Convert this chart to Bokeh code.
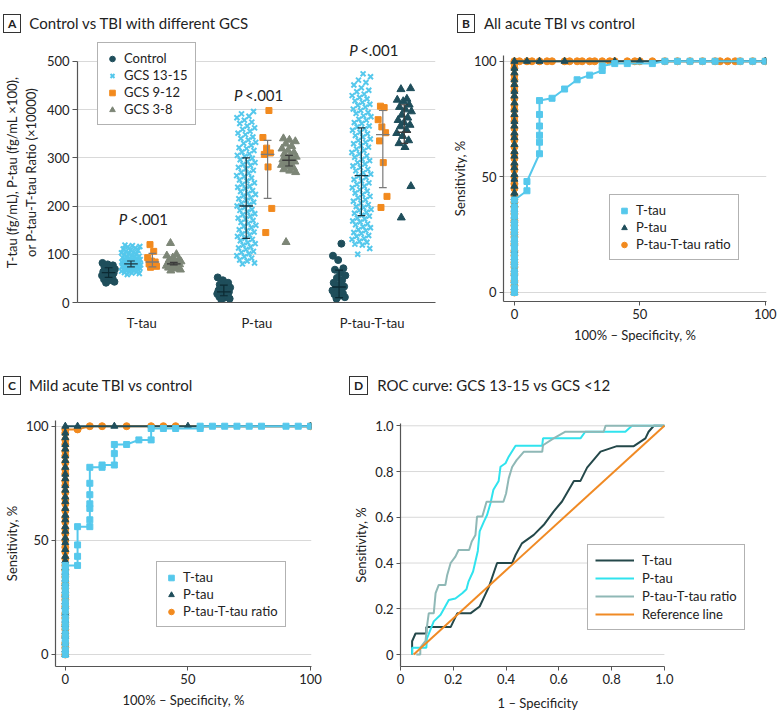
from bokeh.plotting import figure
from bokeh.layouts import column, row
from bokeh.models import Label, Legend, LegendItem, FixedTicker, Range1d, LinearAxis, Div
from bokeh.embed import file_html
from bokeh.resources import INLINE

FONT = "Lato"
C_CTRL = "#1f4e5b"
C_MILD = "#55c8ec"
C_MOD = "#f28a1e"
C_SEV = "#7d8677"
GRID = "#d9d9d9"
AXIS = "#555555"
TXT = "#222222"

# ---------------- Panel A data ----------------
markers_a = ["T-tau", "P-tau", "P-tau-T-tau"]
groups_a = ["Control", "GCS 13-15", "GCS 9-12", "GCS 3-8"]

ttau_control = [82, 79, 77, 74, 71, 69, 67, 66, 64, 62, 61, 59, 57, 56, 53, 51, 48, 46, 43, 41]
ttau_gcs1315 = [119, 118, 116, 115, 113, 111, 109, 108, 106, 104, 103, 101, 100, 99, 97, 96, 95, 94,
                93, 92, 91, 90, 90, 89, 88, 88, 87, 86, 86, 85, 85, 84, 84, 83, 83, 82, 82, 81,
                81, 80, 80, 79, 79, 78, 78, 77, 77, 76, 76, 75, 75, 74, 74, 73, 73, 72, 72, 71,
                70, 70, 69, 68, 68, 67, 66, 65, 64, 63, 62, 61, 60, 58]
ttau_gcs912 = [120, 106, 93, 86, 84, 80, 78, 75, 73]
ttau_gcs38 = [123, 100, 97, 93, 90, 88, 86, 85, 83, 82, 81, 80, 79, 78, 77, 76, 75, 74, 72, 70, 68, 66]

ptau_control = [52, 46, 41, 37, 34, 31, 29, 27, 25, 23, 22, 21, 19, 18, 16, 14, 12, 10, 8, 6]
ptau_gcs1315 = [396, 391, 386, 383, 378, 374, 371, 366, 362, 359, 355, 351, 348, 343, 340, 337, 332,
                330, 326, 321, 319, 315, 312, 308, 305, 303, 299, 296, 292, 290, 286, 284, 280, 277,
                274, 270, 268, 263, 261, 258, 254, 252, 248, 245, 241, 239, 236, 232, 230, 226, 224,
                221, 217, 215, 212, 208, 206, 203, 200, 197, 193, 191, 188, 184, 182, 179, 175, 173,
                170, 166, 164, 160, 158, 155, 151, 149, 146, 142, 140, 137, 133, 131, 128, 124, 122,
                119, 115, 113, 110, 106, 104, 101, 97, 95, 92, 88, 86, 82, 80]
ptau_gcs912 = [398, 342, 320, 310, 307, 281, 195, 145]
ptau_gcs38 = [340, 337, 334, 329, 324, 319, 315, 311, 308, 305, 302, 300, 298, 296, 294, 292, 290,
              287, 285, 282, 279, 276, 273, 270, 125]

ptt_control = [122, 97, 88, 71, 68, 61, 56, 51, 46, 41, 36, 33, 30, 27, 25, 22, 19, 17, 14, 11, 8]
ptt_gcs1315 = [474, 468, 461, 456, 451, 445, 440, 437, 432, 429, 425, 422, 418, 415, 411, 409, 405,
               401, 398, 394, 392, 387, 385, 380, 378, 373, 371, 366, 364, 360, 357, 353, 350, 346,
               343, 339, 336, 332, 329, 325, 322, 318, 315, 311, 308, 304, 301, 297, 294, 290, 287,
               283, 280, 276, 273, 269, 266, 262, 259, 255, 252, 248, 245, 241, 238, 234, 231, 227,
               224, 220, 217, 213, 210, 206, 203, 199, 197, 193, 191, 187, 185, 181, 179, 175, 173,
               169, 167, 163, 161, 157, 155, 151, 149, 145, 143, 139, 137, 133, 131, 127, 125, 121,
               119, 112, 100]
ptt_gcs912 = [407, 404, 379, 364, 352, 335, 290, 220, 197]
ptt_gcs38 = [444, 442, 422, 420, 417, 410, 405, 400, 396, 389, 383, 378, 373, 368, 365, 358, 351,
             345, 336, 330, 322, 241, 176]

# error bars: centre, low, high (per group, in group order)
ttau_mid = [62, 80, 84, 80]
ttau_lo = [52, 74, 74, 78]
ttau_hi = [72, 86, 102, 83]
ptau_mid = [22, 200, 307, 295]
ptau_lo = [14, 133, 216, 283]
ptau_hi = [36, 300, 336, 305]
ptt_mid = [32, 263, 348, 353]
ptt_lo = [10, 180, 238, 330]
ptt_hi = [67, 362, 398, 410]

p_labels_y = [174, 430, 523]

# ---------------- Panel B data (All acute TBI vs control) ----------------
b_ttau_x = [0, 0, 0, 0, 0, 0, 0, 0, 0, 0, 0, 0, 0, 0, 0, 0, 0, 0, 5, 5, 10, 10, 10, 10, 10, 10,
            15, 20, 25, 30, 35, 35, 40, 45, 55, 60, 65, 70, 75, 80, 90, 95, 100]
b_ttau_y = [0, 2, 5, 7, 9, 12, 14, 16, 19, 21, 23, 26, 28, 30, 33, 35, 37, 40, 44, 48, 60, 65, 68, 72,
            77, 83, 84, 88, 92, 94, 96, 98, 99, 99, 99, 100, 100, 100, 100, 100, 100, 100, 100]
b_ptau_x = [0, 0, 0, 0, 0, 0, 0, 0, 0, 0, 0, 0, 0, 0, 0, 0, 0, 0, 0, 0, 0, 0, 0, 0, 0, 0, 0, 0, 0,
            0, 0, 0, 0, 0, 0, 0, 0, 0, 0, 0, 5, 10, 20, 40, 50, 100]
b_ptau_y = [0, 2, 5, 8, 10, 13, 15, 18, 21, 23, 26, 28, 31, 33, 36, 38, 41, 43, 46, 49, 51, 54, 56,
            59, 61, 64, 67, 69, 72, 74, 77, 79, 82, 85, 87, 90, 92, 95, 97, 100, 100, 100, 100, 100,
            100, 100]
b_ratio_x = [0, 0, 0, 0, 0, 0, 0, 0, 0, 0, 0, 0, 0, 0, 0, 0, 0, 0, 0, 0, 0, 0, 0, 0, 0, 0, 0, 0, 0,
             0, 0, 0, 0, 0, 0, 0, 0, 0, 0, 0, 2, 5, 7, 10, 13, 15, 20, 22, 25, 27, 30, 32, 35, 38, 40,
             45, 48, 50, 55, 60, 65, 70, 75, 80, 82, 85, 88, 90, 95, 100]
b_ratio_y = [0, 3, 5, 8, 11, 13, 16, 18, 21, 24, 26, 29, 31, 34, 37, 39, 42, 45, 47, 50, 53, 55, 58,
             60, 63, 66, 68, 71, 74, 76, 79, 81, 84, 87, 89, 92, 94, 97, 99, 100, 100, 100, 100, 100,
             100, 100, 100, 100, 100, 100, 100, 100, 100, 100, 100, 100, 100, 100, 100, 100, 100,
             100, 100, 100, 100, 100, 100, 100, 100, 100]

# ---------------- Panel C data (Mild acute TBI vs control) ----------------
c_ttau_x = [0, 0, 0, 0, 0, 0, 0, 0, 0, 0, 0, 0, 0, 0, 0, 0, 0, 0, 5, 5, 5, 5, 10, 10, 10, 10, 10, 10,
            10, 15, 15, 20, 20, 20, 25, 30, 35, 35, 40, 45, 55, 55, 60, 65, 70, 75, 80, 90, 95, 100]
c_ttau_y = [0, 2, 5, 7, 9, 12, 14, 16, 19, 21, 23, 26, 28, 30, 33, 35, 37, 39, 39, 43, 48, 56, 56, 59,
            64, 66, 70, 75, 82, 82, 83, 83, 88, 92, 92, 94, 94, 99, 99, 99, 99, 100, 100, 100, 100,
            100, 100, 100, 100, 100]
c_ptau_x = [0, 0, 0, 0, 0, 0, 0, 0, 0, 0, 0, 0, 0, 0, 0, 0, 0, 0, 0, 0, 0, 0, 0, 0, 0, 0, 0, 0, 0,
            0, 0, 0, 0, 0, 0, 0, 0, 0, 0, 0, 5, 20, 50, 100]
c_ptau_y = [0, 2, 5, 8, 10, 13, 15, 18, 21, 23, 26, 28, 31, 33, 36, 38, 41, 43, 46, 49, 51, 54, 56,
            59, 61, 64, 67, 69, 72, 74, 77, 79, 82, 85, 87, 90, 92, 95, 97, 100, 100, 100, 100, 100]
c_ratio_x = [0, 0, 0, 0, 0, 0, 0, 0, 0, 0, 0, 0, 0, 0, 0, 0, 0, 0, 0, 0, 0, 0, 0, 0, 0, 0, 0, 0, 0,
             0, 0, 0, 0, 0, 0, 0, 0, 0, 0, 5, 10, 15, 25, 35, 40, 45, 100]
c_ratio_y = [0, 3, 5, 8, 11, 13, 16, 18, 21, 24, 26, 29, 31, 34, 37, 39, 42, 45, 47, 50, 53, 55, 58,
             60, 63, 66, 68, 71, 74, 76, 79, 81, 84, 87, 89, 92, 94, 97, 98.6, 98.6, 100, 100, 100,
             100, 100, 100, 100]

# ---------------- Panel D data (ROC GCS 13-15 vs GCS <12) ----------------
d_ttau_x = [0.044, 0.044, 0.057, 0.098, 0.098, 0.19, 0.215, 0.265, 0.30, 0.335, 0.366, 0.423, 0.436,
            0.46, 0.505, 0.543, 0.58, 0.612, 0.657, 0.682, 0.707, 0.758, 0.82, 0.884, 0.928, 0.94,
            0.96, 1.0]
d_ttau_y = [0.0, 0.058, 0.092, 0.092, 0.12, 0.12, 0.18, 0.18, 0.21, 0.296, 0.40, 0.40, 0.435, 0.486,
            0.523, 0.567, 0.625, 0.669, 0.759, 0.759, 0.817, 0.887, 0.911, 0.911, 0.945, 0.974, 1.0,
            1.0]
d_ptau_x = [0.044, 0.044, 0.098, 0.10, 0.126, 0.152, 0.183, 0.208, 0.234, 0.25, 0.258, 0.275, 0.293,
            0.30, 0.316, 0.328, 0.341, 0.352, 0.372, 0.379, 0.398, 0.41, 0.436, 0.537, 0.54, 0.682,
            0.70, 0.852, 0.877, 1.0]
d_ptau_y = [0.0, 0.03, 0.03, 0.07, 0.145, 0.174, 0.238, 0.245, 0.268, 0.285, 0.32, 0.363, 0.453,
            0.538, 0.581, 0.61, 0.661, 0.72, 0.759, 0.821, 0.836, 0.865, 0.913, 0.913, 0.945, 0.945,
            0.974, 0.974, 1.0, 1.0]
d_ratio_x = [0.06, 0.075, 0.075, 0.095, 0.10, 0.107, 0.126, 0.133, 0.145, 0.17, 0.177, 0.19, 0.208,
             0.22, 0.26, 0.27, 0.284, 0.29, 0.31, 0.326, 0.39, 0.40, 0.41, 0.423, 0.44, 0.467, 0.537,
             0.54, 0.58, 0.625, 0.77, 0.777, 1.0]
d_ratio_y = [0.0, 0.0, 0.03, 0.06, 0.12, 0.18, 0.18, 0.268, 0.304, 0.304, 0.348, 0.40, 0.428, 0.457,
             0.457, 0.494, 0.523, 0.603, 0.603, 0.668, 0.668, 0.704, 0.77, 0.82, 0.85, 0.886, 0.886,
             0.915, 0.945, 0.974, 0.974, 1.0, 1.0]
d_ref_x = [0.05, 1.0]
d_ref_y = [0.0, 1.0]
d_ticks = [0, 0.2, 0.4, 0.6, 0.8, 1.0]


# ---------------- helpers ----------------
def style(p):
    p.outline_line_color = None
    p.background_fill_color = "white"
    p.border_fill_color = "white"
    for ax in p.axis:
        ax.axis_line_color = AXIS
        ax.axis_line_width = 1.2
        ax.major_tick_line_color = AXIS
        ax.major_tick_out = 4
        ax.major_tick_in = 0
        ax.minor_tick_line_color = None
        ax.major_label_standoff = 3
        ax.axis_label_standoff = 5
        ax.major_label_text_font = FONT
        ax.major_label_text_font_size = "13px"
        ax.major_label_text_color = TXT
        ax.axis_label_text_font = FONT
        ax.axis_label_text_font_size = "13px"
        ax.axis_label_text_font_style = "normal"
        ax.axis_label_text_color = TXT
    p.xgrid.grid_line_color = None
    p.ygrid.grid_line_color = GRID
    p.ygrid.grid_line_width = 1


def title_div(letter, text, w, h, pad_top, pad_left, gap):
    html = (f'<div style="font-family:Lato,sans-serif;font-size:15px;color:{TXT};white-space:nowrap;'
            f'padding-top:{pad_top}px;padding-left:{pad_left}px;line-height:19px;">'
            f'<span style="display:inline-block;border:1px solid #333;padding:0 4px;font-weight:bold;'
            f'font-size:12px;line-height:17px;margin-right:{gap}px;vertical-align:middle;">{letter}</span>'
            f'<span style="vertical-align:middle;">{text}</span></div>')
    return Div(text=html, width=w, height=h, margin=(0, 0, 0, 0))


def make_legend(items, loc, lh, gw, padding=7, spacing=1):
    return Legend(items=items, location=loc, label_text_font=FONT, label_text_font_size="13px",
                  label_text_color=TXT, border_line_color="#666666", border_line_width=1,
                  background_fill_color="white", background_fill_alpha=1.0, padding=padding,
                  spacing=spacing, label_height=lh, glyph_height=lh, glyph_width=gw,
                  label_standoff=5, margin=0)


# ---------------- Panel A ----------------
AX0, AX1 = -0.557, 2.55
XPX = 368 / (AX1 - AX0)
pA = figure(width=448, height=305, x_range=Range1d(AX0, AX1), y_range=Range1d(0, 539),
            output_backend="svg", toolbar_location=None,
            min_border_left=67, min_border_right=13, min_border_top=2, min_border_bottom=43)
style(pA)
pA.yaxis.ticker = FixedTicker(ticks=[0, 100, 200, 300, 400, 500])
pA.yaxis.bounds = (0, 500)
pA.xaxis.ticker = FixedTicker(ticks=[0, 1, 2])
pA.xaxis.major_label_overrides = {0: markers_a[0], 1: markers_a[1], 2: markers_a[2]}
pA.xaxis.major_tick_line_color = None
pA.xaxis.major_label_standoff = 8
pA.yaxis.major_tick_out = 5
pA.yaxis.axis_label = "T-tau (fg/mL), P-tau (fg/mL \u00d7100),\nor P-tau-T-tau Ratio (\u00d710000)"
pA.yaxis.axis_label_standoff = 5

group_off_px = [-34, -11, 11, 33]
half_px = [7, 10, 5, 8]
GOLD = 0.6180339887


def jitter(vals, half):
    order = sorted(range(len(vals)), key=lambda i: vals[i])
    offs = [0.0] * len(vals)
    for rank, i in enumerate(order):
        f = (rank * GOLD + 0.31) % 1.0
        offs[i] = (2 * f - 1) * half
    return offs


data_a = [
    [ttau_control, ttau_gcs1315, ttau_gcs912, ttau_gcs38],
    [ptau_control, ptau_gcs1315, ptau_gcs912, ptau_gcs38],
    [ptt_control, ptt_gcs1315, ptt_gcs912, ptt_gcs38],
]
bars_a = [
    (ttau_mid, ttau_lo, ttau_hi),
    (ptau_mid, ptau_lo, ptau_hi),
    (ptt_mid, ptt_lo, ptt_hi),
]
colors_a = [
    [C_CTRL, C_MILD, C_MOD, C_SEV],
    [C_CTRL, C_MILD, C_MOD, C_SEV],
    [C_CTRL, C_MILD, C_MOD, C_CTRL],
]
marker_kind = ["circle", "x", "square", "triangle"]
marker_size = [7, 7, 6, 8]
bar_colors = ["#0c2a33", "#1b3640", "#7a7a7a", "#3b3b3b"]

legend_rs = []
for ci in range(3):
    for gi in range(4):
        vals = data_a[ci][gi]
        offs = jitter(vals, half_px[gi])
        xs = [ci + (group_off_px[gi] + o) / XPX for o in offs]
        kw = dict(marker=marker_kind[gi], size=marker_size[gi], color=colors_a[ci][gi])
        if marker_kind[gi] == "x":
            kw["line_width"] = 2
        r = pA.scatter(xs, vals, **kw)
        if ci == 0:
            legend_rs.append(r)
    mid, lo, hi = bars_a[ci]
    for gi in range(4):
        xc = ci + group_off_px[gi] / XPX
        cw = 4 / XPX
        mw = 7 / XPX
        col = bar_colors[gi]
        pA.segment(x0=[xc], y0=[lo[gi]], x1=[xc], y1=[hi[gi]], line_color=col, line_width=1.2)
        pA.segment(x0=[xc - cw, xc - cw], y0=[lo[gi], hi[gi]], x1=[xc + cw, xc + cw],
                   y1=[lo[gi], hi[gi]], line_color=col, line_width=1.2)
        pA.segment(x0=[xc - mw], y0=[mid[gi]], x1=[xc + mw], y1=[mid[gi]], line_color=col,
                   line_width=1.4)

for ci in range(3):
    pA.add_layout(Label(x=ci, y=p_labels_y[ci], text="P", text_font=FONT, text_font_size="15px",
                        text_font_style="italic", text_color=TXT, x_offset=-23,
                        text_baseline="middle", text_align="left"))
    pA.add_layout(Label(x=ci, y=p_labels_y[ci], text="<.001", text_font=FONT,
                        text_font_size="15px", text_color=TXT, x_offset=-12,
                        text_baseline="middle", text_align="left"))

legA = make_legend([LegendItem(label=groups_a[i], renderers=[legend_rs[i]]) for i in range(4)],
                   (20, 177), 15, 14)
pA.add_layout(legA)


# ---------------- ROC panels B & C ----------------
def roc_panel(w, h, xr, yr, mb, ttau, ptau, ratio, legloc):
    p = figure(width=w, height=h, x_range=Range1d(*xr), y_range=Range1d(*yr),
               output_backend="svg", toolbar_location=None,
               min_border_left=mb[0], min_border_right=mb[1], min_border_top=mb[2],
               min_border_bottom=mb[3])
    style(p)
    p.xaxis.ticker = FixedTicker(ticks=[0, 50, 100])
    p.yaxis.ticker = FixedTicker(ticks=[0, 50, 100])
    p.xaxis.axis_label = "100% \u2013 Specificity, %"
    p.yaxis.axis_label = "Sensitivity, %"
    p.yaxis.axis_label_standoff = 3
    p.line(ratio[0], ratio[1], line_color=C_MOD, line_width=2)
    r_ratio = p.scatter(ratio[0], ratio[1], marker="circle", size=7, color=C_MOD)
    p.line(ptau[0], ptau[1], line_color=C_CTRL, line_width=2)
    r_ptau = p.scatter(ptau[0], ptau[1], marker="triangle", size=7, color=C_CTRL)
    p.line(ttau[0], ttau[1], line_color=C_MILD, line_width=2)
    r_ttau = p.scatter(ttau[0], ttau[1], marker="square", size=6, color=C_MILD)
    leg = make_legend([LegendItem(label="T-tau", renderers=[r_ttau]),
                       LegendItem(label="P-tau", renderers=[r_ptau]),
                       LegendItem(label="P-tau-T-tau ratio", renderers=[r_ratio])],
                      legloc, 15, 14)
    p.add_layout(leg)
    return p


pB = roc_panel(335, 305, (-4.35, 100.5), (-3.9, 102.5), (54, 17, 15, 43),
               (b_ttau_x, b_ttau_y), (b_ptau_x, b_ptau_y), (b_ratio_x, b_ratio_y), (106, 41))

pC = roc_panel(345, 316, (-4.0, 100.4), (-5.26, 102.5), (45, 34, 18, 52),
               (c_ttau_x, c_ttau_y), (c_ptau_x, c_ptau_y), (c_ratio_x, c_ratio_y), (101, 39))

# ---------------- Panel D ----------------
pD = figure(width=438, height=316, x_range=Range1d(0, 1.33), y_range=Range1d(-0.0524, 1.01),
            output_backend="svg", toolbar_location=None,
            min_border_left=55, min_border_right=32, min_border_top=21, min_border_bottom=52)
style(pD)
pD.ygrid.grid_line_color = None
pD.xaxis.ticker = FixedTicker(ticks=d_ticks)
pD.yaxis.ticker = FixedTicker(ticks=d_ticks)
pD.xaxis.bounds = (0, 1)
pD.xaxis.major_label_overrides = {0: "0", 1: "1.0"}
pD.yaxis.major_label_overrides = {0: "0", 1: "1.0"}
pD.yaxis.axis_label = "Sensitivity, %"
pD.yaxis.axis_label_standoff = 3
# x-axis title, centred under the 0..1 span
xt = LinearAxis(ticker=FixedTicker(ticks=[0.52]), major_label_overrides={0.52: "1 \u2013 Specificity"},
                axis_line_color=None, major_tick_line_color=None, minor_tick_line_color=None,
                major_label_text_font=FONT, major_label_text_font_size="13px",
                major_label_text_color=TXT, major_label_standoff=2)
pD.add_layout(xt, "below")
# horizontal grid lines limited to the 0..1 span
pD.segment(x0=[0] * len(d_ticks), y0=d_ticks, x1=[1] * len(d_ticks), y1=d_ticks,
           line_color=GRID, line_width=1)
r_dt = pD.line(d_ttau_x, d_ttau_y, line_color="#24484a", line_width=2)
r_dp = pD.line(d_ptau_x, d_ptau_y, line_color="#30e3ee", line_width=2)
r_dr = pD.line(d_ratio_x, d_ratio_y, line_color="#8fb8b6", line_width=2)
r_rf = pD.line(d_ref_x, d_ref_y, line_color="#f08a24", line_width=2)
legD = make_legend([LegendItem(label="T-tau", renderers=[r_dt]),
                    LegendItem(label="P-tau", renderers=[r_dp]),
                    LegendItem(label="P-tau-T-tau ratio", renderers=[r_dr]),
                    LegendItem(label="Reference line", renderers=[r_rf])],
                   (187, 36), 16, 39, padding=7, spacing=2)
legD.label_standoff = 8
pD.add_layout(legD)

# ---------------- titles & layout ----------------
tA = title_div("A", "Control vs TBI with different GCS", 448, 40, 12, 3, 8)
tB = title_div("B", "All acute TBI vs control", 335, 40, 12, 9, 9)
tC = title_div("C", "Mild acute TBI vs control", 345, 57, 29, 3, 8)
tD = title_div("D", "ROC curve: GCS 13-15 vs GCS &lt;12", 438, 57, 29, 4, 9)

layout = column(row(column(tA, pA), column(tB, pB)),
                row(column(tC, pC), column(tD, pD)))
open("out.html", "w").write(file_html(layout, INLINE))
